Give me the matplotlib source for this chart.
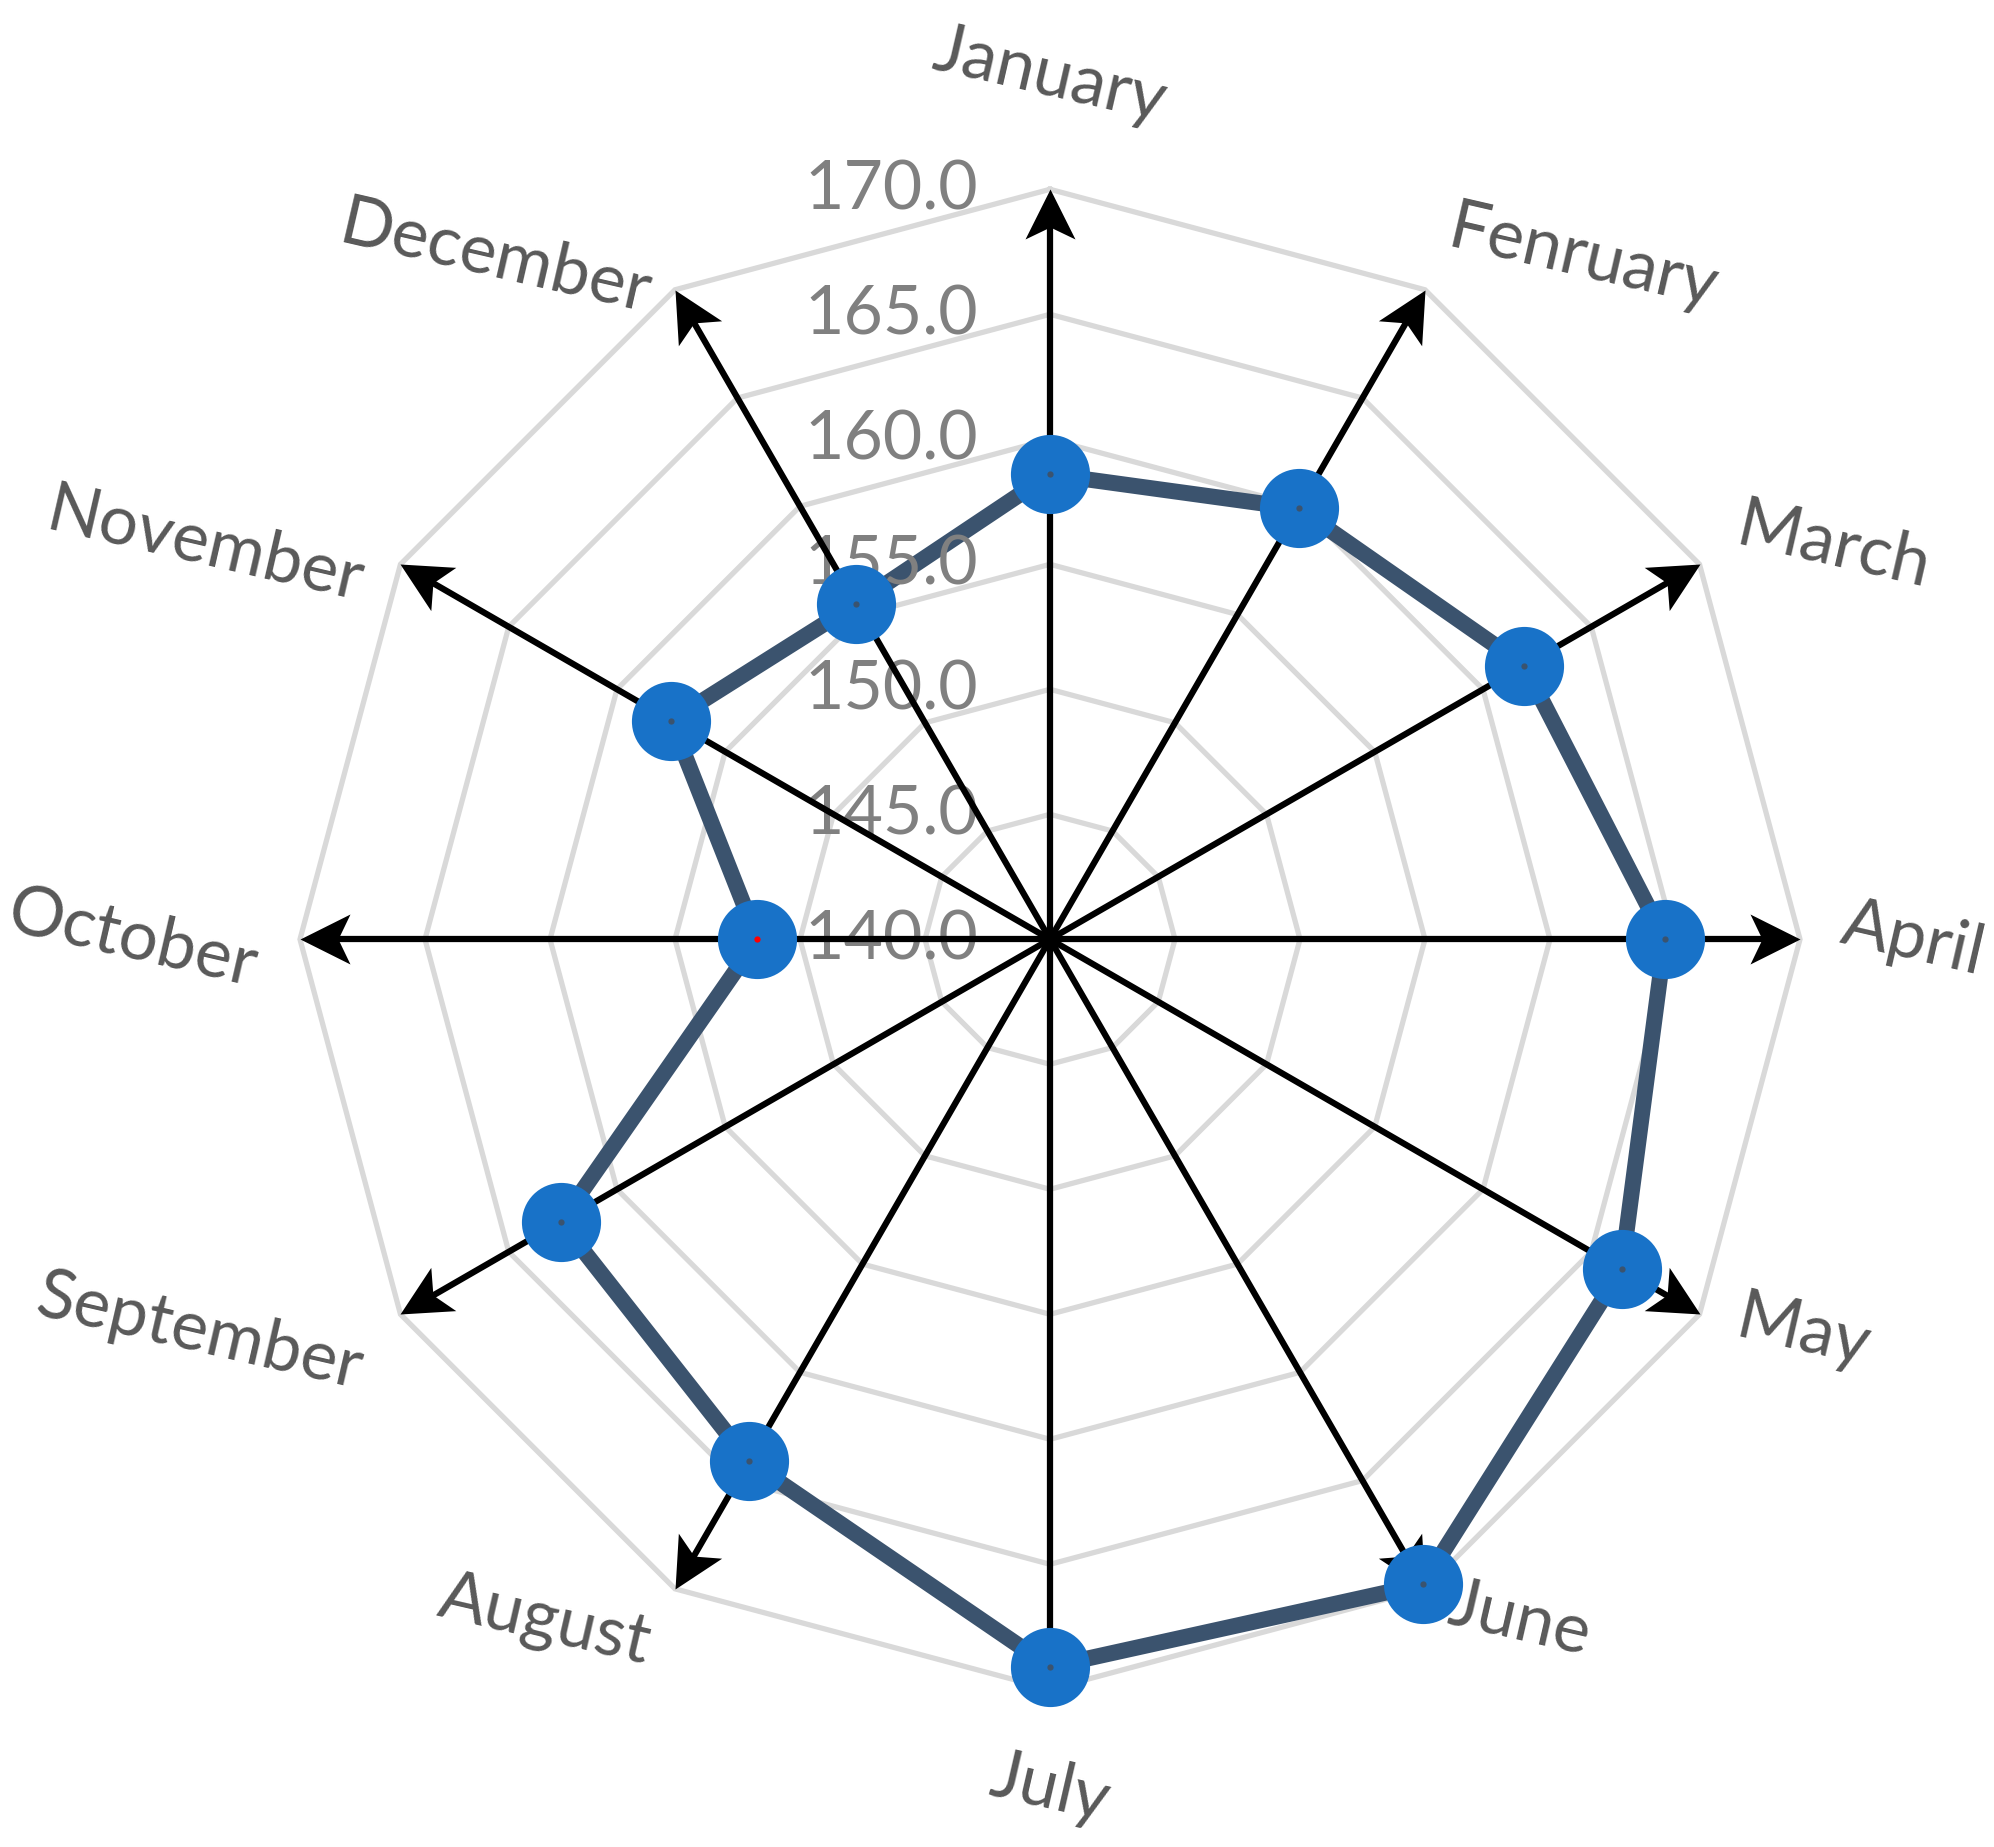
import numpy as np
import matplotlib
matplotlib.use("Agg")
import matplotlib.pyplot as plt
from matplotlib.markers import MarkerStyle
from matplotlib.path import Path
from matplotlib.transforms import Affine2D

plt.rcParams["font.family"] = ["Lato", "DejaVu Sans"]

months = ["January", "Fenruary", "March", "April", "May", "June",
          "July", "August", "September", "October", "November", "December"]
values = [158.6, 159.9, 161.9, 164.6, 166.4, 169.8,
          169.1, 164.1, 162.6, 151.7, 157.5, 155.5]
ring_levels = [145, 150, 155, 160, 165, 170]
tick_levels = [140, 145, 150, 155, 160, 165, 170]
r_min, r_max = 140, 170

grid_color = "#d9d9d9"
line_color = "#3b536e"
marker_color = "#1872c8"
label_color = "#595959"
tick_color = "#808080"

fig = plt.figure(figsize=(19.94, 18.47), dpi=100)
ax = fig.add_axes([0.15045, 0.08538, 0.75226, 0.81213], projection="polar")
ax.set_theta_offset(np.pi / 2)
ax.set_theta_direction(-1)
ax.set_ylim(r_min, r_max)
ax.grid(False)
ax.set_xticks([])
ax.set_yticks([])
ax.spines["polar"].set_visible(False)
ax.patch.set_visible(False)

n = len(months)
theta = np.arange(n) * 2 * np.pi / n
theta_closed = np.append(theta, theta[0])

# polygon grid
for lev in ring_levels:
    ax.plot(theta_closed, [lev] * (n + 1), color=grid_color, lw=3.8, zorder=1,
            solid_joinstyle="miter", clip_on=False)

# data line
vals_closed = values + values[:1]
ax.plot(theta_closed, vals_closed, color=line_color, lw=11.5, zorder=3, clip_on=False)

# radial scale labels
for lev in tick_levels:
    ax.annotate(f"{lev:.1f}", xy=(0, lev), xytext=(-52, -1), textcoords="offset points",
                ha="right", va="center", fontsize=49, color=tick_color, zorder=4,
                annotation_clip=False)

# axis arrows
head = Path([(0, 0), (-50, 25), (-38, 0), (-50, -25), (0, 0)],
            [Path.MOVETO, Path.LINETO, Path.LINETO, Path.LINETO, Path.CLOSEPOLY])
for i, t in enumerate(theta):
    ax.plot([t, t], [r_min, r_max - 1.2], color="black", lw=4.5, zorder=5,
            solid_capstyle="butt", clip_on=False)
    screen_angle = 90 - 360 / n * i
    ms = MarkerStyle(head, transform=Affine2D().rotate_deg(screen_angle))
    ax.plot([t], [r_max], marker=ms, ms=72, color="black", mec="none",
            zorder=5, clip_on=False)

# markers
ax.plot(theta, values, "o", ms=57, color=marker_color, mec="none", zorder=6, clip_on=False)
dot_colors = [line_color] * n
dot_colors[9] = "red"
for t, v, c in zip(theta, values, dot_colors):
    ax.plot([t], [v], "o", ms=4.5, color=c, mec="none", zorder=7, clip_on=False)

# month labels
for i, (t, name) in enumerate(zip(theta, months)):
    a = np.deg2rad(90 - 360 / n * i)
    c, s = np.cos(a), np.sin(a)
    if abs(c) < 0.01:
        ha = "center"
        va = "bottom" if s > 0 else "top"
        pad = 40
    else:
        ha = "left" if c > 0 else "right"
        va = "center"
        pad = 26
    ax.annotate(name, xy=(t, r_max), xytext=(pad * c, pad * s), textcoords="offset points",
                ha=ha, va=va, rotation=-13, fontsize=50, color=label_color,
                annotation_clip=False)

fig.savefig("out.png", dpi=100)
